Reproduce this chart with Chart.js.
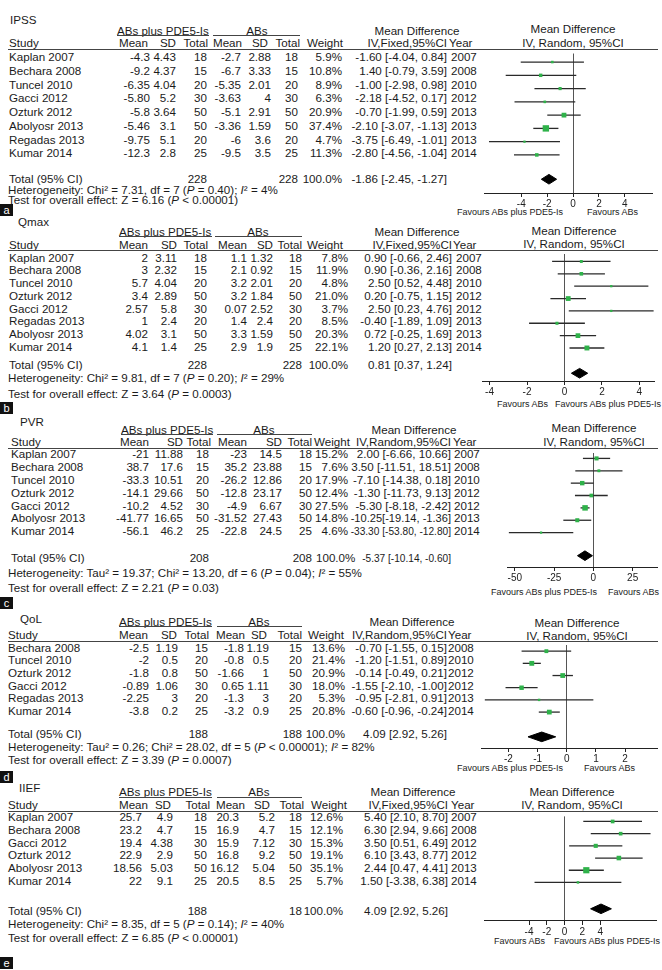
<!DOCTYPE html>
<html><head><meta charset="utf-8">
<script src="https://cdn.jsdelivr.net/npm/chart.js@4.4.1/dist/chart.umd.min.js"></script>
<style>
html,body{margin:0;padding:0;background:#fff;}
#root{position:relative;width:662px;height:970px;overflow:hidden;font-family:"Liberation Sans",Arial,sans-serif;color:#1b1b1b;}
.t{position:absolute;white-space:nowrap;font-size:10.8px;line-height:10px;}
.ln{position:absolute;background:#333;}
.box{position:absolute;background:#111;color:#fff;font-size:11px;line-height:12px;text-align:center;width:13px;height:12px;}
canvas{position:absolute;}
</style></head>
<body><div id="root"></div>
<script>
// ================= DATA =================
// ---- IPSS ----
const ipssStudy = ["Kaplan 2007","Bechara 2008","Tuncel 2010","Gacci 2012","Ozturk 2012","Abolyosr 2013","Regadas 2013","Kumar 2014"];
const ipssMeanE = ["-4.3","-9.2","-6.35","-5.80","-5.8","-5.46","-9.75","-12.3"];
const ipssSdE   = ["4.43","4.37","4.04","5.2","3.64","3.1","5.1","2.8"];
const ipssNE    = [18,15,20,30,50,50,20,25];
const ipssMeanC = ["-2.7","-6.7","-5.35","-3.63","-5.1","-3.36","-6","-9.5"];
const ipssSdC   = ["2.88","3.33","2.01","4","2.91","1.59","3.6","3.5"];
const ipssNC    = [18,15,20,30,50,50,20,25];
const ipssWeight= [5.9,10.8,8.9,6.3,20.9,37.4,4.7,11.3];
const ipssMdText= ["-1.60 [-4.04, 0.84]","1.40 [-0.79, 3.59]","-1.00 [-2.98, 0.98]","-2.18 [-4.52, 0.17]","-0.70 [-1.99, 0.59]","-2.10 [-3.07, -1.13]","-3.75 [-6.49, -1.01]","-2.80 [-4.56, -1.04]"];
const ipssYear  = [2007,2008,2010,2012,2013,2013,2013,2014];
const ipssMd    = [-1.60,-2.50,-1.00,-2.18,-0.70,-2.10,-3.75,-2.80];
const ipssLo    = [-4.04,-5.20,-2.98,-4.52,-1.99,-3.07,-6.49,-4.56];
const ipssHi    = [0.84,0.25,0.98,0.17,0.59,-1.13,-1.01,-1.04];
const ipssTotalN= ["228","228"];
const ipssPooled= [-1.86,-2.45,-1.27];
const ipssPooledText = "-1.86 [-2.45, -1.27]";
const ipssTicks = [-4,-2,0,2,4];

// ---- Qmax ----
const qmaxStudy = ["Kaplan 2007","Bechara 2008","Tuncel 2010","Ozturk 2012","Gacci 2012","Regadas 2013","Abolyosr 2013","Kumar 2014"];
const qmaxMeanE = ["2","3","5.7","3.4","2.57","1","4.02","4.1"];
const qmaxSdE   = ["3.11","2.32","4.04","2.89","5.8","2.4","3.1","1.4"];
const qmaxNE    = [18,15,20,50,30,20,50,25];
const qmaxMeanC = ["1.1","2.1","3.2","3.2","0.07","1.4","3.3","2.9"];
const qmaxSdC   = ["1.32","0.92","2.01","1.84","2.52","2.4","1.59","1.9"];
const qmaxNC    = [18,15,20,50,30,20,50,25];
const qmaxWeight= [7.8,11.9,4.8,21.0,3.7,8.5,20.3,22.1];
const qmaxMdText= ["0.90 [-0.66, 2.46]","0.90 [-0.36, 2.16]","2.50 [0.52, 4.48]","0.20 [-0.75, 1.15]","2.50 [0.23, 4.76]","-0.40 [-1.89, 1.09]","0.72 [-0.25, 1.69]","1.20 [0.27, 2.13]"];
const qmaxYear  = [2007,2008,2010,2012,2012,2013,2013,2014];
const qmaxMd    = [0.90,0.90,2.50,0.20,2.50,-0.40,0.72,1.20];
const qmaxLo    = [-0.66,-0.36,0.52,-0.75,0.23,-1.89,-0.25,0.27];
const qmaxHi    = [2.46,2.16,4.48,1.15,4.76,1.09,1.69,2.13];
const qmaxTotalN= ["228","228"];
const qmaxPooled= [0.81,0.37,1.24];
const qmaxPooledText = "0.81 [0.37, 1.24]";
const qmaxTicks = [-4,-2,0,2,4];

// ---- PVR ----
const pvrStudy = ["Kaplan 2007","Bechara 2008","Tuncel 2010","Ozturk 2012","Gacci 2012","Abolyosr 2013","Kumar 2014"];
const pvrMeanE = ["-21","38.7","-33.3","-14.1","-10.2","-41.77","-56.1"];
const pvrSdE   = ["11.88","17.6","10.51","29.66","4.52","16.65","46.2"];
const pvrNE    = [18,15,20,50,30,50,25];
const pvrMeanC = ["-23","35.2","-26.2","-12.8","-4.9","-31.52","-22.8"];
const pvrSdC   = ["14.5","23.88","12.86","23.17","6.67","27.43","24.5"];
const pvrNC    = [18,15,20,50,30,50,25];
const pvrWeight= [15.2,7.6,17.9,12.4,27.5,14.8,4.6];
const pvrMdText= ["2.00 [-6.66, 10.66]","3.50 [-11.51, 18.51]","-7.10 [-14.38, 0.18]","-1.30 [-11.73, 9.13]","-5.30 [-8.18, -2.42]","-10.25[-19.14, -1.36]","-33.30 [-53.80, -12.80]"];
const pvrYear  = [2007,2008,2010,2012,2012,2013,2014];
const pvrMd    = [2.00,3.50,-7.10,-1.30,-5.30,-10.25,-33.30];
const pvrLo    = [-6.66,-11.51,-14.38,-11.73,-8.18,-19.14,-53.80];
const pvrHi    = [10.66,18.51,0.18,9.13,-2.42,-1.36,-12.80];
const pvrTotalN= ["208","208"];
const pvrPooled= [-5.37,-10.14,-0.60];
const pvrPooledText = "-5.37 [-10.14, -0.60]";
const pvrTicks = [-50,-25,0,25];

// ---- QoL ----
const qolStudy = ["Bechara 2008","Tuncel 2010","Ozturk 2012","Gacci 2012","Regadas 2013","Kumar 2014"];
const qolMeanE = ["-2.5","-2","-1.8","-0.89","-2.25","-3.8"];
const qolSdE   = ["1.19","0.5","0.8","1.06","3","0.2"];
const qolNE    = [15,20,50,30,20,25];
const qolMeanC = ["-1.8","-0.8","-1.66","0.65","-1.3","-3.2"];
const qolSdC   = ["1.19","0.5","1","1.11","3","0.9"];
const qolNC    = [15,20,50,30,20,25];
const qolWeight= [13.6,21.4,20.9,18.0,5.3,20.8];
const qolMdText= ["-0.70 [-1.55, 0.15]","-1.20 [-1.51, 0.89]","-0.14 [-0.49, 0.21]","-1.55 [-2.10, -1.00]","-0.95 [-2.81, 0.91]","-0.60 [-0.96, -0.24]"];
const qolYear  = [2008,2010,2012,2012,2013,2014];
const qolMd    = [-0.70,-1.20,-0.14,-1.55,-0.95,-0.60];
const qolLo    = [-1.55,-1.51,-0.49,-2.10,-2.81,-0.96];
const qolHi    = [0.15,-0.89,0.21,-1.00,0.91,-0.24];
const qolTotalN= ["188","188"];
const qolPooled= [-0.86,-1.33,-0.38];
const qolPooledText = "4.09 [2.92, 5.26]";
const qolTicks = [-2,-1,0,1,2];

// ---- IIEF ----
const iiefStudy = ["Kaplan 2007","Bechara 2008","Gacci 2012","Ozturk 2012","Abolyosr 2013","Kumar 2014"];
const iiefMeanE = ["25.7","23.2","19.4","22.9","18.56","22"];
const iiefSdE   = ["4.9","4.7","4.38","2.9","5.03","9.1"];
const iiefNE    = [18,15,30,50,50,25];
const iiefMeanC = ["20.3","16.9","15.9","16.8","16.12","20.5"];
const iiefSdC   = ["5.2","4.7","7.12","9.2","5.04","8.5"];
const iiefNC    = [18,15,30,50,50,25];
const iiefWeight= [12.6,12.1,15.3,19.1,35.1,5.7];
const iiefMdText= ["5.40 [2.10, 8.70]","6.30 [2.94, 9.66]","3.50 [0.51, 6.49]","6.10 [3.43, 8.77]","2.44 [0.47, 4.41]","1.50 [-3.38, 6.38]"];
const iiefYear  = [2007,2008,2012,2012,2013,2014];
const iiefMd    = [5.40,6.30,3.50,6.10,2.44,1.50];
const iiefLo    = [2.10,2.94,0.51,3.43,0.47,-3.38];
const iiefHi    = [8.70,9.66,6.49,8.77,4.41,6.38];
const iiefTotalN= ["188","18"];
const iiefPooled= [4.09,2.92,5.26];
const iiefPooledText = "4.09 [2.92, 5.26]";
const iiefTicks = [-4,-2,0,2,4];

const FAV_E = "Favours ABs plus PDE5-Is";
const FAV_C = "Favours ABs";

// ================= LAYOUT =================
const panels = [
 { title:"IPSS", titleX:10, titleY:20, letter:null,
   groupY:30.7, groupLineY:35, headY:42.7, lineY:49, rowY:57.3, rowStep:13.7,
   totalY:179.3, hetY:189.6, testY:199.8, diamondY:178.3, axisY:192.5, favY:211.7,
   ivHdr:"IV,Fixed,95%CI",
   hetHtml:"Heterogeneity: Chi² = 7.31, df = 7 (<i>P</i> = 0.40); <i>I</i>² = 4%",
   testHtml:"Test for overall effect: Z = 6.16 (<i>P</i> &lt; 0.00001)",
   c:{study:9, meanE:[148.3,150], sdE:[175.7,175.5], nE:[208.3,206.7], meanC:[241.7,240.7], sdC:[268,270.7], nC:[300,298.3], weight:[343.3,342.3], md:446.7, year:450.7, mdHdr:416.7, yearHdr:449, grpE:[117,209], grpC:[213,300], totW:[342.3,'r'], totMdMin:345},
   d:{study:ipssStudy, meanE:ipssMeanE, sdE:ipssSdE, nE:ipssNE, meanC:ipssMeanC, sdC:ipssSdC, nC:ipssNC, weight:ipssWeight, mdText:ipssMdText, year:ipssYear, md:ipssMd, lo:ipssLo, hi:ipssHi, totalN:ipssTotalN, pooled:ipssPooled, pooledText:ipssPooledText, ticks:ipssTicks},
   p:{L:480, R:657, zero:573.3, ppu:13.65, hdrX:573.3, hdr1Y:29.3, hdr2Y:42.7,
      favL:[FAV_E,563,'r'], favR:[FAV_C,587,'l']} },
 { title:"Qmax", titleX:18, titleY:222, letter:["a",204],
   groupY:231.7, groupLineY:236.5, headY:245, lineY:250, rowY:257.7, rowStep:12.75,
   totalY:365, hetY:377.7, testY:393.5, diamondY:373, axisY:381, favY:404,
   ivHdr:"IV,Fixed,95%CI",
   hetHtml:"Heterogeneity: Chi² = 9.81, df = 7 (<i>P</i> = 0.20); <i>I</i>² = 29%",
   testHtml:"Test for overall effect: Z = 3.64 (<i>P</i> = 0.0003)",
   c:{study:9, meanE:[148.3,148.3], sdE:[176.7,176.7], nE:[208.3,206.7], meanC:[246.7,247], sdC:[273.3,273.3], nC:[301.7,301.7], weight:[343.3,348.3], md:451.7, year:456, mdHdr:417.3, yearHdr:453.3, grpE:[119.3,211.7], grpC:[215,301.7], totW:[348.3,'r'], totMdMin:351},
   d:{study:qmaxStudy, meanE:qmaxMeanE, sdE:qmaxSdE, nE:qmaxNE, meanC:qmaxMeanC, sdC:qmaxSdC, nC:qmaxNC, weight:qmaxWeight, mdText:qmaxMdText, year:qmaxYear, md:qmaxMd, lo:qmaxLo, hi:qmaxHi, totalN:qmaxTotalN, pooled:qmaxPooled, pooledText:qmaxPooledText, ticks:qmaxTicks},
   p:{L:478, R:658, zero:564.3, ppu:19.6, hdrX:574, hdr1Y:230.7, hdr2Y:243.5,
      favL:[FAV_C,497,'l'], favR:[FAV_E,661,'r']} },
 { title:"PVR", titleX:20, titleY:421.7, letter:["b",402],
   groupY:430, groupLineY:434.5, headY:441.7, lineY:448.3, rowY:454.3, rowStep:12.8,
   totalY:557.7, hetY:572.7, testY:588.3, diamondY:555, axisY:566.7, favY:591.7,
   ivHdr:"IV,Random,95%CI",
   hetHtml:"Heterogeneity: Tau² = 19.37; Chi² = 13.20, df = 6 (<i>P</i> = 0.04); <i>I</i>² = 55%",
   testHtml:"Test for overall effect: Z = 2.21 (<i>P</i> = 0.03)",
   c:{study:11, meanE:[149.3,149.3], sdE:[183.3,183.3], nE:[210.7,209], meanC:[246.7,246.7], sdC:[282.3,282.3], nC:[311.7,311.7], weight:[350,347.5], md:451, year:454, mdHdr:414, yearHdr:453, grpE:[120.7,213.3], grpC:[216.7,311.7], totW:[315.5,'l'], totMdMin:362},
   d:{study:pvrStudy, meanE:pvrMeanE, sdE:pvrSdE, nE:pvrNE, meanC:pvrMeanC, sdC:pvrSdC, nC:pvrNC, weight:pvrWeight, mdText:pvrMdText, year:pvrYear, md:pvrMd, lo:pvrLo, hi:pvrHi, totalN:pvrTotalN, pooled:pvrPooled, pooledText:pvrPooledText, ticks:pvrTicks},
   p:{L:503, R:661, zero:594, ppu:1.655, hdrX:594, hdr1Y:428.3, hdr2Y:442.3,
      favL:[FAV_E,597,'r'], favR:[FAV_C,608,'l']} },
 { title:"QoL", titleX:20, titleY:619, letter:["c",597],
   groupY:621.7, groupLineY:626.5, headY:635, lineY:641.7, rowY:647.7, rowStep:12.66,
   totalY:734.3, hetY:747.3, testY:760, diamondY:736.7, axisY:748.3, favY:767.7,
   ivHdr:"IV,Random,95%CI",
   hetHtml:"Heterogeneity: Tau² = 0.26; Chi² = 28.02, df = 5 (<i>P</i> &lt; 0.00001); <i>I</i>² = 82%",
   testHtml:"Test for overall effect: Z = 3.39 (<i>P</i> = 0.0007)",
   c:{study:8.3, meanE:[148.3,149.3], sdE:[176.7,178.3], nE:[209,208.3], meanC:[245,244.3], sdC:[266.7,269.3], nC:[301.7,302.3], weight:[344,345], md:446.7, year:448.3, mdHdr:411.7, yearHdr:448.3, grpE:[119.3,212.3], grpC:[216.7,301.7], totW:[345,'r'], totMdMin:348},
   d:{study:qolStudy, meanE:qolMeanE, sdE:qolSdE, nE:qolNE, meanC:qolMeanC, sdC:qolSdC, nC:qolNC, weight:qolWeight, mdText:qolMdText, year:qolYear, md:qolMd, lo:qolLo, hi:qolHi, totalN:qolTotalN, pooled:qolPooled, pooledText:qolPooledText, ticks:qolTicks},
   p:{L:477, R:661, zero:566.7, ppu:30.5, hdrX:576.7, hdr1Y:623.3, hdr2Y:635.7,
      favL:[FAV_E,563,'r'], favR:[FAV_C,584,'l']} },
 { title:"IIEF", titleX:19, titleY:788.3, letter:["d",771],
   groupY:791.7, groupLineY:797.5, headY:805, lineY:811.7, rowY:817.3, rowStep:12.7,
   totalY:911, hetY:924.3, testY:937.7, diamondY:908.3, axisY:921, favY:941,
   ivHdr:"IV,Fixed,95%CI",
   hetHtml:"Heterogeneity: Chi² = 8.35, df = 5 (<i>P</i> = 0.14); <i>I</i>² = 40%",
   testHtml:"Test for overall effect: Z = 6.85 (<i>P</i> &lt; 0.00001)",
   c:{study:8.3, meanE:[148.3,142], sdE:[171,173], nE:[210,206.7], meanC:[245,239], sdC:[270,275], nC:[304,301.7], weight:[346.7,343.3], md:448.3, year:450.7, mdHdr:413.3, yearHdr:450.7, grpE:[119.3,212.3], grpC:[216.7,301.7], totW:[343.3,'r'], totMdMin:346},
   d:{study:iiefStudy, meanE:iiefMeanE, sdE:iiefSdE, nE:iiefNE, meanC:iiefMeanC, sdC:iiefSdC, nC:iiefNC, weight:iiefWeight, mdText:iiefMdText, year:iiefYear, md:iiefMd, lo:iiefLo, hi:iiefHi, totalN:iiefTotalN, pooled:iiefPooled, pooledText:iiefPooledText, ticks:iiefTicks},
   p:{L:480, R:661, zero:564.3, ppu:9.35, hdrX:571.7, hdr1Y:791.7, hdr2Y:805,
      favL:[FAV_C,494,'l'], favR:[FAV_E,660,'r']} }
];
const lastLetter = ["e",957];

// ================= RENDER =================
const root = document.getElementById('root');
const GREEN = '#2fb24a';
const SX = 1.075;   // the scanned text is slightly wide
function txt(x,y,html,align,size,sx){
  const d=document.createElement('div'); d.className='t'; d.innerHTML=html;
  d.style.left=x+'px'; d.style.top=y+'px';
  if(size) d.style.fontSize=size+'px';
  root.appendChild(d);
  setT(d,align,sx||SX);
  return d;
}
function setT(d,align,sx){
  const tx = align==='r'?'-100%':(align==='c'?'-50%':'0');
  d.style.transformOrigin = align==='r'?'100% 50%':(align==='c'?'50% 50%':'0 50%');
  d.style.transform='translate('+tx+',-50%) scaleX('+sx+')';
}
// right-aligned text that is squeezed so it does not run left of minLeft
function txtFit(x,y,html,minLeft){
  const d=txt(x,y,html,'r');
  const w=d.offsetWidth;
  if(w*SX > x-minLeft) setT(d,'r',(x-minLeft)/w);
  return d;
}
function hl(x1,x2,y,w,c){
  const d=document.createElement('div'); d.className='ln';
  d.style.left=x1+'px'; d.style.top=(y-(w||1)/2)+'px'; d.style.width=(x2-x1)+'px'; d.style.height=(w||1)+'px';
  if(c) d.style.background=c; root.appendChild(d);
}
function box(letter,y){
  const d=document.createElement('div'); d.className='box'; d.textContent=letter;
  d.style.left='0px'; d.style.top=y+'px'; root.appendChild(d);
}

Chart.defaults.font.family='"Liberation Sans", Arial, sans-serif';

function drawPanel(P){
  const c=P.c, d=P.d;
  if(P.letter) box(P.letter[0],P.letter[1]);
  txt(P.titleX,P.titleY,P.title);
  // group headers
  const g=txt(c.grpE[0],P.groupY,"ABs plus PDE5-Is",'l');
  setT(g,'l',(c.grpE[1]-c.grpE[0])/g.offsetWidth);
  hl(c.grpE[0],c.grpE[1],P.groupLineY,1,'#444');
  txt((c.grpC[0]+c.grpC[1])/2,P.groupY,"ABs",'c');
  hl(c.grpC[0],c.grpC[1],P.groupLineY,1,'#444');
  txt(c.mdHdr,P.groupY,"Mean Difference",'c');
  // column headers
  txt(c.study,P.headY,"Study");
  txt(c.meanE[0],P.headY,"Mean",'r'); txt(c.sdE[0],P.headY,"SD",'r'); txt(c.nE[0],P.headY,"Total",'r');
  txt(c.meanC[0],P.headY,"Mean",'r'); txt(c.sdC[0],P.headY,"SD",'r'); txt(c.nC[0],P.headY,"Total",'r');
  txt(c.weight[0],P.headY,"Weight",'r');
  txt(c.md,P.headY,P.ivHdr,'r'); txt(c.yearHdr,P.headY,"Year");
  hl(8,658,P.lineY,1,'#444');
  // rows
  d.study.forEach((s,i)=>{
    const y=P.rowY+i*P.rowStep;
    txt(c.study,y,s);
    txt(c.meanE[1],y,d.meanE[i],'r'); txt(c.sdE[1],y,d.sdE[i],'r'); txt(c.nE[1],y,String(d.nE[i]),'r');
    txt(c.meanC[1],y,d.meanC[i],'r'); txt(c.sdC[1],y,d.sdC[i],'r'); txt(c.nC[1],y,String(d.nC[i]),'r');
    txt(c.weight[1],y,d.weight[i].toFixed(1)+'%','r');
    txtFit(c.md,y,d.mdText[i],c.weight[1]+3); txt(c.year,y,String(d.year[i]));
  });
  // totals
  txt(c.study,P.totalY,"Total (95% CI)");
  txt(c.nE[1],P.totalY,d.totalN[0],'r'); txt(c.nC[1],P.totalY,d.totalN[1],'r');
  txt(c.totW[0],P.totalY,"100.0%",c.totW[1]); txtFit(c.md,P.totalY,d.pooledText,c.totMdMin);
  txt(8,P.hetY,P.hetHtml); txt(8,P.testY,P.testHtml);
  // forest header + favours
  const p=P.p;
  txt(p.hdrX,p.hdr1Y,"Mean Difference",'c'); txt(p.hdrX,p.hdr2Y,"IV, Random, 95%CI",'c');
  txt(p.favL[1],P.favY,p.favL[0],p.favL[2],8.4);
  txt(p.favR[1],P.favY,p.favR[0],p.favR[2],8.4);
  makeChart(P);
}

function makeChart(P){
  const p=P.p, d=P.d;
  const AX=20;
  const W=p.R-p.L, H=Math.round(P.axisY-P.lineY)+AX;
  const cv=document.createElement('canvas');
  cv.width=W; cv.height=H;
  const areaTop = P.axisY-(H-AX);
  cv.style.left=p.L+'px'; cv.style.top=areaTop+'px'; cv.style.width=W+'px'; cv.style.height=H+'px';
  root.appendChild(cv);
  const yMin=(areaTop-P.rowY)/P.rowStep, yMax=(P.axisY-P.rowY)/P.rowStep;
  const yT=(P.diamondY-P.rowY)/P.rowStep, dh=5/P.rowStep;
  const xMin=(p.L-p.zero)/p.ppu, xMax=(p.R-p.zero)/p.ppu;
  const pl=d.pooled;
  const datasets=[];
  datasets.push({data:d.md.map((v,i)=>({x:v,y:i})), pointStyle:'rect',
    pointRadius:d.weight.map(w=>Math.max(1.6,0.74*Math.sqrt(w))),
    backgroundColor:GREEN, borderColor:GREEN, borderWidth:0, showLine:false, clip:false});
  datasets.push({data:[{x:pl[1],y:yT},{x:pl[0],y:yT-dh},{x:pl[2],y:yT},{x:pl[0],y:yT+dh},{x:pl[1],y:yT}],
    showLine:true, fill:'shape', backgroundColor:'#000', borderColor:'#000', borderWidth:1, pointRadius:0, tension:0, clip:false});
  d.lo.forEach((lo,i)=>datasets.push({data:[{x:lo,y:i},{x:d.hi[i],y:i}], showLine:true,
    borderColor:'#2a2a2a', borderWidth:1.3, pointRadius:0, clip:false}));
  new Chart(cv,{type:'scatter', data:{datasets},
    options:{responsive:false, animation:false, devicePixelRatio:1, events:[],
      layout:{padding:0},
      plugins:{legend:{display:false}, tooltip:{enabled:false}},
      scales:{
        x:{type:'linear', min:xMin, max:xMax,
          afterBuildTicks:s=>{s.ticks=d.ticks.map(v=>({value:v}));},
          afterFit:s=>{s.height=AX;},
          grid:{drawOnChartArea:true, color:ctx=>(ctx.tick&&ctx.tick.value===0)?'#555':'rgba(0,0,0,0)', tickColor:'#222', tickLength:4, lineWidth:1},
          border:{display:true, color:'#222', width:1},
          ticks:{font:{size:10}, color:'#222', padding:1, maxRotation:0, autoSkip:false}},
        y:{type:'linear', display:false, reverse:true, min:yMin, max:yMax}
      }}});
}

panels.forEach(drawPanel);
box(lastLetter[0],lastLetter[1]);
</script>
</body></html>
